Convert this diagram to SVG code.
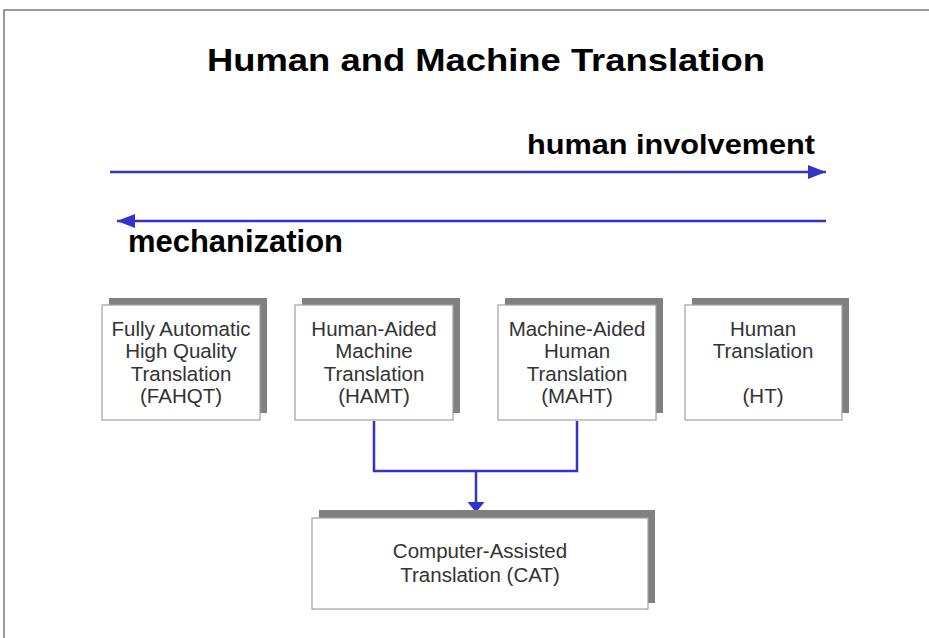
<svg xmlns="http://www.w3.org/2000/svg" width="929" height="638" viewBox="0 0 929 638">
  <style>
    .frame { fill: none; stroke: #7a7a7a; stroke-width: 1.5; }
    .heading { font-family: "Liberation Sans", Arial, sans-serif; font-weight: bold; fill: #000; }
    .axis { stroke: #3333cc; stroke-width: 2.5; fill: none; }
    .link { stroke: #3333cc; stroke-width: 2.5; fill: none; }
    .shadow { fill: #808080; }
    .box { fill: #fff; stroke: #a0a0a0; stroke-width: 1.2; }
    .label { font-family: "Liberation Sans", Arial, sans-serif; font-size: 20.5px; fill: #333; text-anchor: middle; }
  </style>
  <defs>
    <marker id="head" markerUnits="userSpaceOnUse" markerWidth="20" markerHeight="16" refX="18" refY="8" orient="auto">
      <path d="M0,1 L18,8 L0,15 Z" fill="#3333cc"/>
    </marker>
    <marker id="headFlat" markerUnits="userSpaceOnUse" markerWidth="10" markerHeight="20" refX="8" refY="10" orient="auto">
      <path d="M0,1.5 L8,8 L8,12 L0,18.5 Z" fill="#3333cc"/>
    </marker>
  </defs>

  <!-- page frame -->
  <path class="frame" d="M4,638 L4,10 L929,10"/>

  <!-- title -->
  <text class="heading" x="207" y="71" font-size="31" textLength="558" lengthAdjust="spacingAndGlyphs">Human and Machine Translation</text>

  <!-- scale arrows -->
  <g id="scale">
    <text class="heading" x="527" y="154" font-size="28" textLength="288" lengthAdjust="spacingAndGlyphs">human involvement</text>
    <line class="axis" x1="110" y1="172" x2="826" y2="172" marker-end="url(#head)"/>
    <line class="axis" x1="826" y1="221" x2="117" y2="221" marker-end="url(#head)"/>
    <text class="heading" x="128" y="252" font-size="32" textLength="215" lengthAdjust="spacingAndGlyphs">mechanization</text>
  </g>

  <!-- connectors -->
  <g id="connectors">
    <path class="link" d="M374,421 L374,471 L577,471 L577,421"/>
    <line class="link" x1="476" y1="471" x2="476" y2="510" marker-end="url(#headFlat)"/>
  </g>

  <g id="fahqt">
    <rect class="shadow" x="109" y="298" width="158" height="115"/>
    <rect class="box" x="102" y="305" width="158" height="115"/>
    <text class="label" x="181" y="336">Fully Automatic</text>
    <text class="label" x="181" y="358">High Quality</text>
    <text class="label" x="181" y="381">Translation</text>
    <text class="label" x="181" y="403">(FAHQT)</text>
  </g>

  <g id="hamt">
    <rect class="shadow" x="302" y="298" width="158" height="115"/>
    <rect class="box" x="295" y="305" width="158" height="115"/>
    <text class="label" x="374" y="336">Human-Aided</text>
    <text class="label" x="374" y="358">Machine</text>
    <text class="label" x="374" y="381">Translation</text>
    <text class="label" x="374" y="403">(HAMT)</text>
  </g>

  <g id="maht">
    <rect class="shadow" x="505" y="298" width="158" height="115"/>
    <rect class="box" x="498" y="305" width="158" height="115"/>
    <text class="label" x="577" y="336">Machine-Aided</text>
    <text class="label" x="577" y="358">Human</text>
    <text class="label" x="577" y="381">Translation</text>
    <text class="label" x="577" y="403">(MAHT)</text>
  </g>

  <g id="ht">
    <rect class="shadow" x="692" y="298" width="157" height="115"/>
    <rect class="box" x="685" y="305" width="157" height="115"/>
    <text class="label" x="763" y="336">Human</text>
    <text class="label" x="763" y="358">Translation</text>
    <text class="label" x="763" y="403">(HT)</text>
  </g>

  <g id="cat">
    <rect class="shadow" x="319" y="510" width="336" height="93"/>
    <rect class="box" x="312" y="518" width="336" height="91"/>
    <text class="label" x="480" y="558">Computer-Assisted</text>
    <text class="label" x="480" y="582">Translation (CAT)</text>
  </g>
</svg>
